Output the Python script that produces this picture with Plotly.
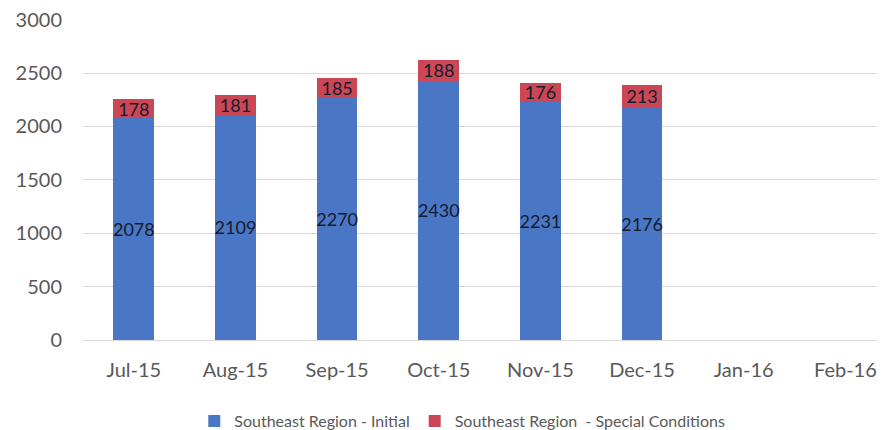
import plotly.graph_objects as go

months = ["Jul-15", "Aug-15", "Sep-15", "Oct-15", "Nov-15", "Dec-15", "Jan-16", "Feb-16"]
initial = [2078, 2109, 2270, 2430, 2231, 2176, None, None]
special = [178, 181, 185, 188, 176, 213, None, None]
y_ticks = [0, 500, 1000, 1500, 2000, 2500, 3000]

BLUE = "#4A77C5"
RED = "#CB4756"
LABEL = "#151B2E"
GREY = "#595959"
FONT = "Lato"

fig = go.Figure()
fig.add_trace(go.Bar(
    x=months, y=initial, name="Southeast Region - Initial",
    marker=dict(color=BLUE, line=dict(width=0)),
    text=[str(v) if v is not None else "" for v in initial],
    textposition="inside", insidetextanchor="middle", textangle=0,
    constraintext="none", cliponaxis=False,
    textfont=dict(family=FONT, size=18, color=LABEL),
))
fig.add_trace(go.Bar(
    x=months, y=special, name="Southeast Region  - Special Conditions",
    marker=dict(color=RED, line=dict(width=0)),
    text=[str(v) if v is not None else "" for v in special],
    textposition="inside", insidetextanchor="middle", textangle=0,
    constraintext="none", cliponaxis=False,
    textfont=dict(family=FONT, size=18, color=LABEL),
))

fig.update_layout(
    barmode="stack",
    bargap=0.6,
    width=877, height=422,
    margin=dict(l=75, r=0, t=11, b=90),
    paper_bgcolor="white", plot_bgcolor="white",
    font=dict(family=FONT, color=GREY),
    uniformtext=dict(minsize=8, mode="show"),
    showlegend=True,
    legend=dict(
        orientation="h", xref="container", x=0.518, xanchor="center",
        yref="container", y=0.021, yanchor="middle",
        font=dict(family=FONT, size=16, color=GREY),
        traceorder="normal",
    ),
    xaxis=dict(
        type="category", range=[-0.5, 7.39],
        showgrid=False, showline=True, linecolor="#D9D9D9", linewidth=1,
        ticks="", tickfont=dict(family=FONT, size=20, color=GREY),
        ticklabelstandoff=12,
    ),
    yaxis=dict(
        range=[0, 3006], tickvals=y_ticks,
        showgrid=True, gridcolor="#D9D9D9", gridwidth=1,
        zeroline=False, showline=False, ticks="",
        tickfont=dict(family=FONT, size=20, color=GREY),
        ticklabelstandoff=20, ticklabeloverflow="allow",
    ),
)

fig.write_html("out.html")
